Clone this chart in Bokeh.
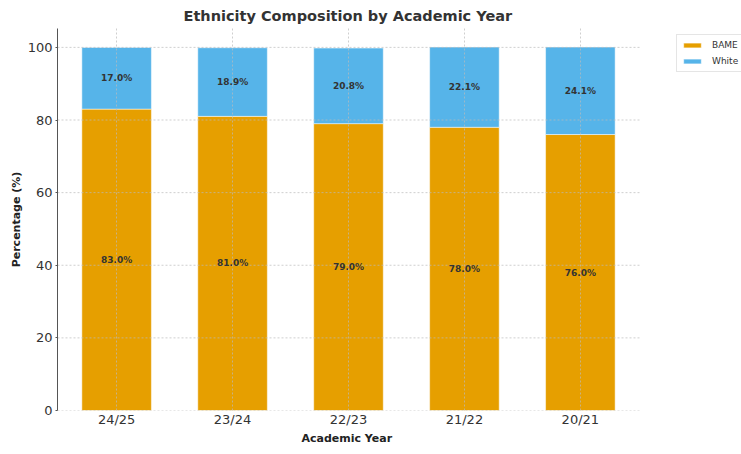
from bokeh.plotting import figure
from bokeh.models import ColumnDataSource, Range1d, FixedTicker, Legend, LegendItem, LabelSet, Title
from bokeh.core.properties import value
from bokeh.embed import file_html
from bokeh.resources import INLINE

years = ["24/25", "23/24", "22/23", "21/22", "20/21"]
bame = [83.0, 81.0, 79.0, 78.0, 76.0]
white = [17.0, 18.9, 20.8, 22.1, 24.1]
series_names = ["BAME", "White"]
colors = ["#E69F00", "#56B4E9"]
y_ticks = [0, 20, 40, 60, 80, 100]

XLO, XHI = -0.51, 4.52      # extent of the plotting area proper
XPANEL = 5.39               # extra room on the right for the legend

xs = list(range(len(years)))
top = [b + w for b, w in zip(bame, white)]
src = ColumnDataSource(dict(
    x=xs, bame=bame, white=white, top=top, zero=[0]*len(xs),
    bame_mid=[b / 2 for b in bame],
    white_mid=[b + w / 2 for b, w in zip(bame, white)],
    bame_lbl=[f"{b:.1f}%" for b in bame],
    white_lbl=[f"{w:.1f}%" for w in white],
))

FONT = "DejaVu Sans"
p = figure(width=741, height=454, output_backend="svg", toolbar_location=None,
           x_range=Range1d(XLO, XPANEL), y_range=Range1d(0, 105.2),
           min_border_left=57, min_border_right=0, min_border_top=28, min_border_bottom=44)
p.outline_line_color = None

r1 = p.vbar(x="x", bottom="zero", top="bame", width=0.6, source=src,
            fill_color=colors[0], line_color="white", line_width=0.5)
r2 = p.vbar(x="x", bottom="bame", top="top", width=0.6, source=src,
            fill_color=colors[1], line_color="white", line_width=0.5)

# horizontal grid limited to the plotting area
p.ygrid.visible = False
p.segment(x0=[XLO]*len(y_ticks), x1=[XHI]*len(y_ticks), y0=y_ticks, y1=y_ticks,
          line_color="#bbbbbb", line_dash="2 2", line_alpha=0.7, line_width=1)
p.xgrid.grid_line_color = "#bbbbbb"
p.xgrid.grid_line_dash = "2 2"
p.xgrid.grid_line_alpha = 0.7
p.xgrid.level = "overlay"

for ycol, tcol in (("bame_mid", "bame_lbl"), ("white_mid", "white_lbl")):
    p.add_layout(LabelSet(x="x", y=ycol, text=tcol, source=src,
                          text_align="center", text_baseline="middle",
                          text_font=value(FONT), text_font_size="9px", text_font_style="bold",
                          text_color="#333333"))

p.title.text = "Ethnicity Composition by Academic Year"
p.title.align = "left"
p.title.offset = 126
p.title.text_font = FONT
p.title.text_font_size = "14.5px"
p.title.text_font_style = "bold"
p.title.text_color = "#333333"

p.xaxis.ticker = FixedTicker(ticks=xs)
p.xaxis.major_label_overrides = {i: y for i, y in enumerate(years)}
p.yaxis.axis_label = "Percentage (%)"
p.yaxis.ticker = FixedTicker(ticks=y_ticks)
for ax in (p.xaxis[0], p.yaxis[0]):
    ax.axis_label_text_font = FONT
    ax.axis_label_text_font_size = "11px"
    ax.axis_label_text_font_style = "bold"
    ax.axis_label_text_color = "#222222"
    ax.major_label_text_font = FONT
    ax.major_label_text_font_size = "13px"
    ax.major_label_text_color = "#333333"
    ax.minor_tick_line_color = None
    ax.major_tick_in = 0
p.xaxis.axis_line_color = None
p.xaxis.major_tick_line_color = None
p.xaxis.major_tick_out = 0
p.xaxis.major_label_standoff = 1
p.yaxis.axis_line_color = "#555555"
p.yaxis.major_tick_out = 2
p.yaxis.major_tick_line_color = "#555555"
p.yaxis.major_label_standoff = 3
p.yaxis.axis_label_standoff = 2

xlabel = Title(text="Academic Year", align="left", offset=244,
               text_font=FONT, text_font_size="11px", text_font_style="bold",
               text_color="#222222", standoff=0)
p.add_layout(xlabel, "below")

legend = Legend(items=[LegendItem(label=n, renderers=[r]) for n, r in zip(series_names, (r1, r2))],
                location=(619, 338))
legend.label_text_font = FONT
legend.label_text_font_size = "9px"
legend.label_text_color = "#333333"
legend.glyph_width = 22
legend.glyph_height = 6
legend.label_height = 12
legend.label_standoff = 9
legend.spacing = 4
legend.padding = 4
legend.margin = 0
legend.border_line_color = "#cccccc"
legend.background_fill_alpha = 1.0
p.add_layout(legend)

open("out.html", "w").write(file_html(p, INLINE))
